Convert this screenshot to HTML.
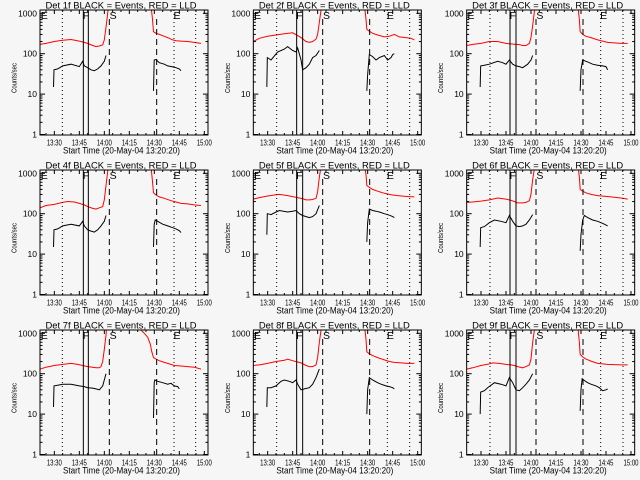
<!DOCTYPE html>
<html><head><meta charset="utf-8"><style>
html,body{margin:0;padding:0;background:#f6f6f6;}
svg{display:block;font-family:"Liberation Sans",sans-serif;}
</style></head><body>
<svg id="chart" width="640" height="480" viewBox="0 0 640 480" xmlns="http://www.w3.org/2000/svg">
<rect x="0" y="0" width="640" height="480" fill="#f6f6f6"/>
</svg>
<script>
const detectors = ["1f","2f","3f","4f","5f","6f","7f","8f","9f"];
const xTickTimes = [30,45,60,75,90,105,120];
const xTickLabels = ["13:30","13:45","14:00","14:15","14:30","14:45","15:00"];
const yTickValues = [1,10,100,1000];
const yTickLabels = ["1","10","100","1000"];
const tMin = 21.4, tMax = 122.2, vMin = 1, vTopDecades = 3.08;
const dottedTimes = [[34.8,101.8,114.8],[35.4,101.8,115.2],[35.4,101.8,115.2],[34.8,101.8,114.8],[35.4,101.8,115.2],[35.4,101.8,115.2],[34.8,101.8,114.8],[35.4,101.8,115.2],[35.4,101.8,115.2]];
const solidTimes = [[47.4,50.4],[47.4,51],[47.4,51],[47.4,50.4],[47.4,51],[47.4,51],[47.4,50.4],[47.4,51],[47.4,51]];
const dashedTimes = [[63,91.4],[63,91.2],[63,91.2],[63,91.4],[63,91.2],[63,91.2],[63,91.4],[63,91.2],[63,91.2]];
const markerLetters = ["E","F","S","E"];
const markerTimes = [24,49,65.3,103.6];
const redPre = [
 [[21.4,170],[25,180],[30,200],[35,215],[40,225],[45,205],[48,190],[50,180],[53,160],[55,150],[57,155],[59,165],[60,220],[61,450],[62,1000],[63,3000]],
 [[21.4,200],[25,240],[30,270],[35,290],[40,310],[45,330],[48,280],[50,250],[53,200],[55,190],[57,200],[59,230],[60,300],[61,600],[62,1200],[63,3000]],
 [[21.4,160],[25,170],[30,180],[35,200],[40,200],[45,180],[48,175],[50,172],[53,168],[55,160],[57,160],[59,180],[60,250],[61,500],[62,1100],[63,3000]],
 [[21.4,140],[25,160],[30,170],[35,190],[38,200],[42,195],[45,180],[48,165],[50,150],[53,135],[55,130],[57,140],[59,150],[60,220],[61,500],[62,1100],[63,3000]],
 [[21.4,230],[25,250],[30,275],[35,295],[37,300],[42,280],[45,265],[48,250],[51,235],[53,220],[55,220],[57,225],[59,240],[60,350],[61,800],[62,1500],[63,3000]],
 [[21.4,190],[25,195],[30,205],[35,220],[40,245],[45,230],[48,215],[50,200],[52,185],[55,185],[57,190],[59,210],[60,300],[61,700],[62,1300],[63,3000]],
 [[21.4,130],[25,145],[30,160],[35,170],[40,180],[44,170],[47,160],[50,150],[53,145],[55,140],[57,140],[58,150],[59,200],[60,400],[61,900],[62,3000]],
 [[21.4,160],[25,165],[30,180],[35,200],[40,215],[42,230],[45,210],[48,195],[50,185],[53,160],[55,150],[57,150],[59,165],[60,250],[61,600],[62,1200],[63,3000]],
 [[21.4,130],[25,140],[30,160],[35,175],[37,185],[41,180],[45,170],[48,165],[50,160],[52,150],[55,140],[57,150],[59,165],[60,230],[61,600],[62,1200],[63,3000]]
];
const blackPre = [
 [[29.5,15],[29.8,40],[32,42],[35,50],[40,55],[45,48],[47,65],[48,50],[50,45],[52,40],[54,38],[56,42],[58,50],[60,65],[61,90]],
 [[29.5,15],[29.8,80],[32,70],[36,110],[40,130],[42,150],[45,120],[47,110],[48,140],[50,70],[51,40],[53,45],[55,55],[57,80],[59,90],[61,120]],
 [[29.5,15],[29.8,50],[32,52],[35,55],[40,65],[43,60],[45,55],[47,70],[49,55],[51,50],[53,48],[55,45],[58,55],[60,70],[61,90]],
 [[29.5,15],[29.8,40],[32,42],[35,50],[40,55],[45,50],[47,65],[48,50],[50,40],[52,37],[54,35],[56,40],[58,50],[60,65],[61,90]],
 [[29.5,30],[29.8,100],[32,95],[35,110],[37,120],[42,110],[45,115],[47,120],[49,100],[51,90],[53,85],[55,80],[57,85],[59,100],[61,160]],
 [[29.5,15],[29.8,45],[32,48],[35,60],[38,70],[42,65],[45,60],[47,90],[49,65],[51,50],[53,48],[55,50],[57,55],[59,70],[61,95]],
 [[29.5,15],[29.8,50],[32,52],[35,55],[40,55],[45,50],[48,48],[50,45],[53,44],[55,42],[57,40],[59,50],[61,100]],
 [[29.5,15],[29.8,45],[32,45],[35,50],[38,65],[40,70],[43,65],[45,60],[47,70],[48,55],[50,40],[52,42],[55,45],[57,55],[59,80],[61,130]],
 [[29.5,10],[29.8,35],[32,38],[34,45],[38,60],[42,55],[45,50],[47,80],[49,60],[51,40],[53,38],[55,45],[57,55],[59,70],[61,100]]
];
const redPost = [
 [[87.4,3000],[88,1500],[88.8,800],[89.5,350],[91,320],[93,300],[96,270],[98,250],[101,220],[103,210],[106,205],[110,200],[114,190],[118,180]],
 [[87.6,3000],[88.3,1300],[89,700],[89.5,400],[91,360],[93,320],[96,290],[100,260],[103,270],[106,300],[109,260],[113,250],[116,240],[118,220]],
 [[87.6,3000],[88.3,1300],[89,700],[89.5,350],[91,300],[93,270],[96,250],[100,220],[103,205],[106,190],[110,185],[114,180],[118,180]],
 [[87.4,3000],[88,1500],[88.8,700],[89.5,330],[91,290],[93,260],[96,240],[100,210],[103,195],[106,180],[110,175],[114,165],[118,160]],
 [[87.6,3000],[88.3,1500],[89,900],[89.5,500],[91,450],[93,400],[96,360],[100,320],[104,295],[108,280],[112,270],[115,265],[118,260]],
 [[87.6,3000],[88.3,1400],[89,800],[89.5,400],[91,360],[93,330],[96,300],[100,280],[104,270],[108,260],[112,250],[115,240],[118,230]],
 [[80.5,3000],[82,1200],[84,1000],[86,800],[87.5,550],[88.5,350],[89.5,250],[91,230],[93,210],[96,190],[99,175],[102,160],[106,155],[110,150],[114,145],[118,130]],
 [[87.6,3000],[88.3,1300],[89,700],[89.5,350],[91,310],[93,280],[96,250],[100,220],[103,200],[106,190],[110,185],[114,180],[118,180]],
 [[87.6,3000],[88.3,1200],[89,600],[89.5,300],[91,260],[93,230],[96,205],[100,180],[103,175],[106,170],[110,168],[114,165],[118,165]]
];
const blackPost = [
 [[89.5,12],[89.9,70],[91,72],[93,60],[96,55],[98,50],[101,47],[103,45],[105,42],[106,38]],
 [[89.5,12],[90,30],[91,95],[93,85],[95,70],[97,80],[100,90],[102,70],[104,80],[105,95],[106,100]],
 [[89.5,12],[90,40],[91,70],[93,65],[95,60],[97,55],[100,52],[103,50],[105,48],[106,40]],
 [[89.5,15],[89.9,55],[90.5,70],[92,65],[95,55],[98,50],[101,45],[103,42],[105,38],[106,34]],
 [[89.5,20],[90,60],[91,130],[93,120],[95,115],[97,110],[100,100],[103,92],[105,85],[106,80]],
 [[89.5,12],[90,30],[91,70],[92,90],[94,80],[97,70],[100,65],[102,60],[104,55],[106,50]],
 [[89.5,8],[89.9,60],[90.3,70],[92,65],[95,60],[98,55],[100,58],[102,50],[104,48],[105,42]],
 [[89.5,10],[90,40],[91,80],[93,70],[96,60],[98,55],[101,50],[103,48],[105,45],[106,42]],
 [[89.5,12],[90,40],[90.7,75],[92,68],[94,60],[96,55],[99,50],[101,45],[103,38],[105,40],[106,42]]
];

const NS = "http://www.w3.org/2000/svg";
const svg = document.getElementById("chart");
function mk(tag, attrs, parent){
  const e = document.createElementNS(NS, tag);
  for (const k in attrs) e.setAttribute(k, attrs[k]);
  (parent||svg).appendChild(e);
  return e;
}
const PW = 640/3, PH = 160;
const bx0 = 40, bx1 = 208, by0 = 10, by1 = 135;
const y1px = 134.5, decadePx = 40.4;

detectors.forEach(function(det, i){
  const ox = (i%3)*PW, oy = Math.floor(i/3)*PH;
  const g = mk("g", {transform:"translate("+ox.toFixed(2)+","+oy+")"});
  
  
  const xs = t => bx0 + (t - tMin)/(tMax - tMin)*(bx1 - bx0);
  const ys = v => y1px - Math.log10(v/vMin)*decadePx;
  const cp = mk("clipPath", {id:"clip"+i}, g);
  mk("rect", {x:bx0, y:by0, width:bx1-bx0, height:by1-by0}, cp);

  const title = mk("text", {x:45.5, y:8.3, "font-size":"9", "textLength":"151", "lengthAdjust":"spacingAndGlyphs", fill:"#000"}, g);
  title.textContent = "Det "+det+" BLACK = Events, RED = LLD";
  
  

  const cg = mk("g", {"clip-path":"url(#clip"+i+")"}, g);
  function line(pts, color, name){
    const d = pts.map((p,k)=>(k?"L":"M")+xs(p[0]).toFixed(1)+","+ys(p[1]).toFixed(1)).join("");
    const p = mk("path", {d:d, fill:"none", stroke:color, "stroke-width":"1"}, cg);
    
    
  }
  line(redPre[i], "#ff0000", "lld-rate-before");
  line(redPost[i], "#ff0000", "lld-rate-after");
  line(blackPre[i], "#000000", "event-rate-before");
  line(blackPost[i], "#000000", "event-rate-after");

  dottedTimes[i].forEach(function(t){
    const l = mk("line", {x1:xs(t), x2:xs(t), y1:by0, y2:by1, stroke:"#000", "stroke-width":"1", "stroke-dasharray":"1,3"}, g);
    
    
  });
  solidTimes[i].forEach(function(t){
    const l = mk("line", {x1:xs(t), x2:xs(t), y1:by0, y2:by1, stroke:"#000", "stroke-width":"1"}, g);
    
    
  });
  dashedTimes[i].forEach(function(t){
    const l = mk("line", {x1:xs(t), x2:xs(t), y1:by0+9, y2:by1, stroke:"#000", "stroke-width":"1", "stroke-dasharray":"6,4"}, g);
    
    
  });
  markerLetters.forEach(function(L, k){
    const tx = mk("text", {x:xs(markerTimes[k]), y:19, "font-size":"10.5", "text-anchor":"middle", fill:"#000"}, g);
    tx.textContent = L;
    
    
  });

  const box = mk("rect", {x:bx0, y:by0, width:bx1-bx0, height:by1-by0, fill:"none", stroke:"#000", "stroke-width":"1"}, g);
  
  

  for (let t = 25; t <= tMax; t += 5){
    const major = (t % 15 === 0);
    const len = major ? 4 : 2;
    mk("line", {x1:xs(t), x2:xs(t), y1:by1, y2:by1-len, stroke:"#000", "stroke-width":"1"}, g);
    mk("line", {x1:xs(t), x2:xs(t), y1:by0, y2:by0+len, stroke:"#000", "stroke-width":"1"}, g);
  }
  xTickTimes.forEach(function(t, k){
    const tx = mk("text", {x:xs(t)-7.5, y:145.5, "font-size":"8.5", "textLength":"15", "lengthAdjust":"spacingAndGlyphs", fill:"#000"}, g);
    tx.textContent = xTickLabels[k];
    
    
  });
  const xt = mk("text", {x:63, y:153.5, "font-size":"9", "textLength":"117", "lengthAdjust":"spacingAndGlyphs", fill:"#000"}, g);
  xt.textContent = "Start Time (20-May-04 13:20:20)";
  
  

  for (let d = 0; d < 4; d++){
    for (let m = 1; m <= 9; m++){
      const v = Math.pow(10,d)*m;
      if (Math.log10(v) > vTopDecades) break;
      const y = ys(v);
      const len = m === 1 ? 5 : 2.5;
      mk("line", {x1:bx0, x2:bx0+len, y1:y, y2:y, stroke:"#000", "stroke-width":"1"}, g);
      mk("line", {x1:bx1, x2:bx1-len, y1:y, y2:y, stroke:"#000", "stroke-width":"1"}, g);
    }
  }
  yTickValues.forEach(function(v, k){
    const tx = mk("text", {x:bx0-3, y:ys(v)+3, "font-size":"8.5", "text-anchor":"end", fill:"#000"}, g);
    tx.textContent = yTickLabels[k];
    
    
  });
  const yt = mk("text", {x:-15, y:0, "font-size":"7.5", "textLength":"30", "lengthAdjust":"spacingAndGlyphs", fill:"#000", transform:"translate(16.5,78) rotate(-90)"}, g);
  yt.textContent = "Counts/sec";
  
  
});
</script>
</body></html>
